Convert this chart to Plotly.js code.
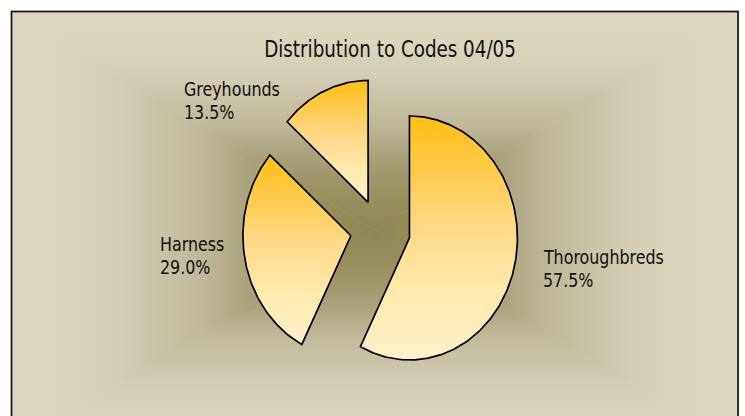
<!DOCTYPE html>
<html>
<head>
<meta charset="utf-8">
<script src="https://cdn.plot.ly/plotly-3.0.1.min.js"></script>
<style>
  html, body { margin: 0; padding: 0; background: #ffffff; }
  #wrap { position: relative; width: 745px; height: 416px; overflow: hidden; }
  #bg { position: absolute; left: 0; top: 0; }
  #chart { position: absolute; left: 0; top: 0; width: 745px; height: 416px; }
  /* emulate the narrow face of the original (no narrow font installed) */
  #chart text.gtitle { transform-box: fill-box; transform-origin: center; transform: scaleX(0.885); }
  #chart text.annotation-text { transform-box: fill-box; transform-origin: left center; transform: scaleX(0.93); }
</style>
</head>
<body>
<div id="wrap">
  <svg id="bg" width="745" height="416" xmlns="http://www.w3.org/2000/svg"></svg>
  <div id="chart"></div>
</div>
<script>
// ---------------- data ----------------
const chartTitle = 'Distribution to Codes 04/05';
const labels = ['Thoroughbreds', 'Harness', 'Greyhounds'];
const values = [57.5, 29.0, 13.5];

// ---------------- styles ----------------
const pulls = [0.29, 0.265, 0.245];          // explode fraction of radius
const FONT = '"Liberation Sans Narrow", "Arial Narrow", "DejaVu Sans Condensed", sans-serif';
const sliceScale = [[0, '#FFF2C8'], [0.25, '#FFEBB0'], [0.55, '#FFD886'], [1, '#FFBE12']];
// label anchor positions (paper fraction, left/top)
const labelPos = [
  {x: 541 / 745, y: 1 - 243.5 / 416},
  {x: 158 / 745, y: 1 - 231 / 416},
  {x: 182 / 745, y: 1 - 76 / 416}
];

// ---------------- background (rectangular "from centre" gradient) ----------------
(function drawBg() {
  const svg = document.getElementById('bg');
  const L = 11.5, R = 738, T = 11.5, B = 448, cx = 375, cy = 230;
  const stops = [
    [0, '#8F8751'], [0.18, '#99915E'], [0.36, '#ABA47F'], [0.48, '#BFB99A'],
    [0.6, '#C9C3A8'], [0.7, '#D2CDB4'], [0.85, '#DAD5BD'], [1, '#DCD7C1']
  ];
  function grad(id, x1, y1, x2, y2) {
    return '<linearGradient id="' + id + '" gradientUnits="userSpaceOnUse" x1="' + x1 + '" y1="' + y1 +
      '" x2="' + x2 + '" y2="' + y2 + '">' +
      stops.map(s => '<stop offset="' + s[0] + '" stop-color="' + s[1] + '"/>').join('') +
      '</linearGradient>';
  }
  let h = '<defs>' +
    grad('gT', cx, cy, cx, T) + grad('gB', cx, cy, cx, B) +
    grad('gL', cx, cy, L, cy) + grad('gR', cx, cy, R, cy) + '</defs>';
  function tri(pts, id) {
    return '<path d="M' + pts.map(p => p.join(',')).join(' L') + ' Z" fill="url(#' + id +
      ')" stroke="url(#' + id + ')" stroke-width="0.6"/>';
  }
  h += tri([[L, T], [R, T], [cx, cy]], 'gT');
  h += tri([[L, B], [R, B], [cx, cy]], 'gB');
  h += tri([[L, T], [L, B], [cx, cy]], 'gL');
  h += tri([[R, T], [R, B], [cx, cy]], 'gR');
  h += '<rect x="' + L + '" y="' + T + '" width="' + (R - L) + '" height="' + (B - T) +
    '" fill="none" stroke="#111" stroke-width="1.7"/>';
  svg.innerHTML = h;
})();

// ---------------- pie slices as filled paths on hidden axes ----------------
const total = values.reduce((a, b) => a + b, 0);
const traces = [];
let cum = 0;
values.forEach((v, i) => {
  const a0 = cum / total * 2 * Math.PI;
  const a1 = (cum + v) / total * 2 * Math.PI;
  const mid = (a0 + a1) / 2;
  const ox = pulls[i] * Math.sin(mid), oy = pulls[i] * Math.cos(mid);
  const xs = [ox], ys = [oy];
  const n = Math.max(8, Math.ceil((a1 - a0) / (Math.PI / 180)));
  for (let k = 0; k <= n; k++) {
    const a = a0 + (a1 - a0) * k / n;
    xs.push(ox + Math.sin(a));
    ys.push(oy + Math.cos(a));
  }
  xs.push(ox); ys.push(oy);
  traces.push({
    type: 'scatter', mode: 'lines', x: xs, y: ys, name: labels[i],
    fill: 'toself',
    fillgradient: {type: 'vertical', colorscale: sliceScale},
    line: {color: '#000000', width: 1.7},
    hoverinfo: 'name', showlegend: false
  });
  cum += v;
});

// ---------------- labels ----------------
const annotations = [];
labels.forEach((lab, i) => {
  const pct = (values[i] / total * 100).toFixed(1) + '%';
  annotations.push({
    xref: 'paper', yref: 'paper', x: labelPos[i].x, y: labelPos[i].y,
    xanchor: 'left', yanchor: 'top', showarrow: false, align: 'left',
    text: lab, font: {family: FONT, size: 19, color: '#111'}
  });
  annotations.push({
    xref: 'paper', yref: 'paper', x: labelPos[i].x, y: labelPos[i].y - 23 / 416,
    xanchor: 'left', yanchor: 'top', showarrow: false, align: 'left',
    text: pct, font: {family: FONT, size: 19, color: '#111'}
  });
});

// axes: 1 unit = 108 px horizontally, 122 px vertically; pie centre at (379, 229.7) px
const layout = {
  width: 745, height: 416,
  margin: {l: 0, r: 0, t: 0, b: 0},
  paper_bgcolor: 'rgba(0,0,0,0)', plot_bgcolor: 'rgba(0,0,0,0)',
  title: {
    text: chartTitle, font: {family: FONT, size: 23, color: '#111'},
    x: 390 / 745, xanchor: 'center', xref: 'paper',
    y: 1 - 49 / 416, yanchor: 'middle', yref: 'paper'
  },
  xaxis: {range: [-379 / 108, (745 - 379) / 108], visible: false, fixedrange: true},
  yaxis: {range: [(229.7 - 416) / 122, 229.7 / 122], visible: false, fixedrange: true},
  annotations: annotations,
  showlegend: false
};

Plotly.newPlot('chart', traces, layout, {displayModeBar: false, staticPlot: true});
</script>
</body>
</html>
